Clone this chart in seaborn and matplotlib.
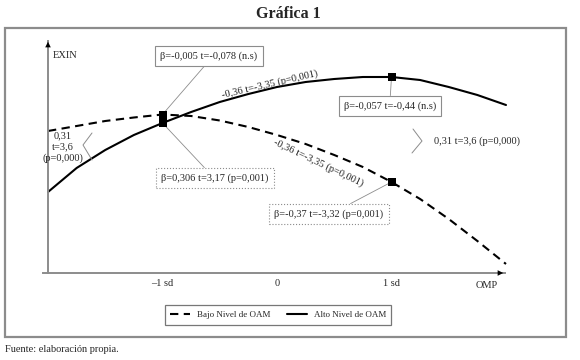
"""
Gráfica 1: efecto de OMP sobre EXIN para bajo y alto nivel de OAM.
"""
import pandas as pd
import seaborn as sns
import matplotlib.pyplot as plt
from matplotlib.lines import Line2D
from matplotlib.patches import Rectangle

sns.set_style("white")
plt.rcParams["font.family"] = ["Liberation Serif", "DejaVu Serif"]

# OMP in standard deviations, EXIN
omp = [-2.0, -1.75, -1.5, -1.25, -1.0, -0.75, -0.5, -0.25, 0.0,
       0.25, 0.5, 0.75, 1.0, 1.25, 1.5, 1.75, 2.0]
exin_bajo = [14.2, 14.7, 15.2, 15.55, 15.85, 15.7, 15.25, 14.6, 13.8,
             12.9, 11.8, 10.6, 9.1, 7.4, 5.4, 3.2, 0.9]
exin_alto = [8.1, 10.5, 12.3, 13.8, 15.0, 16.1, 17.1, 17.9, 18.6,
             19.1, 19.4, 19.6, 19.6, 19.3, 18.6, 17.8, 16.8]
groups = ["Bajo Nivel de OAM", "Alto Nivel de OAM"]

tick_pos = [-1, 0, 1]
tick_labels = ["–1 sd", "0", "1 sd"]

# labels of the simple slopes
box_bajo_lo = "β=-0,005 t=-0,078 (n.s)"
box_alto_lo = "β=0,306 t=3,17 (p=0,001)"
box_alto_hi = "β=-0,057 t=-0,44 (n.s)"
box_bajo_hi = "β=-0,37 t=-3,32 (p=0,001)"
curve_label = "-0,36 t=-3,35 (p=0,001)"
left_label = "0,31\nt=3,6\n(p=0,000)"
right_label = "0,31 t=3,6 (p=0,000)"

W, H = 580, 360
GRAY = "#8c8c8c"
FS = 7.5


def fig_xy(px, py):
    """pixel position in the 580x360 picture -> figure fraction"""
    return (px / W, 1 - py / H)


df = pd.concat([
    pd.DataFrame({"OMP": omp, "EXIN": exin_bajo, "Nivel": groups[0]}),
    pd.DataFrame({"OMP": omp, "EXIN": exin_alto, "Nivel": groups[1]}),
])

fig = plt.figure(figsize=(5.8, 3.6), dpi=100)
ax = fig.add_axes([0, 0, 1, 1])

sns.lineplot(data=df, x="OMP", y="EXIN", hue="Nivel", style="Nivel",
             hue_order=groups, style_order=groups,
             palette=["black", "black"],
             dashes={groups[0]: (4, 2.6), groups[1]: ""},
             linewidth=1.5, ax=ax)

# black square markers at -1 sd and +1 sd
i_lo, i_hi = omp.index(-1.0), omp.index(1.0)
pts_x = [omp[i_lo], omp[i_lo], omp[i_hi], omp[i_hi]]
pts_y = [exin_bajo[i_lo], exin_alto[i_lo], exin_bajo[i_hi], exin_alto[i_hi]]
ax.scatter(pts_x, pts_y, marker="s", s=26, color="black", lw=0, zorder=5)

# same scale as the picture: 114.5 px per sd, 10 px per EXIN unit
ax.set_xlim(-277 / 114.5, (W - 277) / 114.5)
ax.set_ylim(-(H - 273) / 10, 273 / 10)
ax.set_xlabel("")
ax.set_ylabel("")

# axes drawn as arrows crossing at (-2, 0)
for side in ["top", "right"]:
    ax.spines[side].set_visible(False)
ax.spines["bottom"].set_position(("data", 0))
ax.spines["bottom"].set_bounds(-2.04, 1.99)
ax.spines["left"].set_position(("data", -2))
ax.spines["left"].set_bounds(0, 23.2)
for side in ["bottom", "left"]:
    ax.spines[side].set_color(GRAY)
    ax.spines[side].set_linewidth(1.4)
ax.set_yticks([])
ax.set_xticks(tick_pos, tick_labels)
ax.tick_params(axis="x", direction="inout", length=5, width=0.8,
               color=GRAY, labelsize=FS, pad=2)
ax.annotate("", xy=(2.0, 0), xytext=(1.9, 0),
            arrowprops=dict(arrowstyle="-|>", color="black", lw=0.01,
                            mutation_scale=10))
ax.annotate("", xy=(-2, 23.4), xytext=(-2, 22.5),
            arrowprops=dict(arrowstyle="-|>", color="black", lw=0.01,
                            mutation_scale=10))

fig.text(*fig_xy(53, 56), "EXIN", ha="left", va="center", fontsize=FS)
fig.text(*fig_xy(487, 285), "OMP", ha="center", va="center", fontsize=FS)

# boxes pointing at the markers
boxes = [
    (box_bajo_lo, omp[i_lo], exin_bajo[i_lo], (209, 56), "-", (0.5, 0)),
    (box_alto_lo, omp[i_lo], exin_alto[i_lo], (215, 178), ":", (0.45, 1)),
    (box_alto_hi, omp[i_hi], exin_alto[i_hi], (390, 106), "-", (0.5, 1)),
    (box_bajo_hi, omp[i_hi], exin_bajo[i_hi], (329, 214), ":", (0.6, 1)),
]
for text, x, y, pos, ls, rel in boxes:
    ax.annotate(text, xy=(x, y), xytext=fig_xy(*pos),
                textcoords="figure fraction", ha="center", va="center",
                fontsize=FS,
                bbox=dict(boxstyle="square,pad=0.5", fc="white", ec=GRAY,
                          lw=0.8, ls=ls),
                arrowprops=dict(arrowstyle="-", color=GRAY, lw=0.6,
                                relpos=rel, shrinkA=0, shrinkB=2))

# slope labels along the curves
fig.text(*fig_xy(270, 84), curve_label, ha="center", va="center",
         fontsize=FS, rotation=13, rotation_mode="anchor")
fig.text(*fig_xy(318, 163), curve_label, ha="center", va="center",
         fontsize=FS, rotation=-25.5, rotation_mode="anchor")

# brackets with the interaction term
fig.text(*fig_xy(63, 147), left_label, ha="center", va="center",
         fontsize=FS, linespacing=1.25)
fig.text(*fig_xy(434, 141), right_label, ha="left", va="center",
         fontsize=FS)
for pts in [[(92, 133), (83, 145), (92, 160)],
            [(413, 129), (422, 141), (412, 153)]]:
    xs, ys = zip(*[fig_xy(*p) for p in pts])
    fig.add_artist(Line2D(xs, ys, color=GRAY, lw=0.7))

# legend at the bottom of the frame
sns.move_legend(ax, "center", bbox_to_anchor=fig_xy(278, 315),
                bbox_transform=fig.transFigure, ncol=2, title=None,
                frameon=True, fancybox=False, fontsize=6.5,
                handlelength=2.2, columnspacing=1.8, borderpad=0.6,
                edgecolor="#555555")
ax.get_legend().get_frame().set_linewidth(0.9)

# outer frame, title and source
fig.add_artist(Rectangle(fig_xy(5, 337), 561 / W, 309 / H, fill=False,
                         ec=GRAY, lw=1.6, transform=fig.transFigure))
fig.text(*fig_xy(288, 14), "Gráfica 1", ha="center", va="center",
         fontsize=11.5, fontweight="bold")
fig.text(*fig_xy(5, 349), "Fuente: elaboración propia.", ha="left",
         va="center", fontsize=FS)

plt.savefig("out.png", dpi=100)
